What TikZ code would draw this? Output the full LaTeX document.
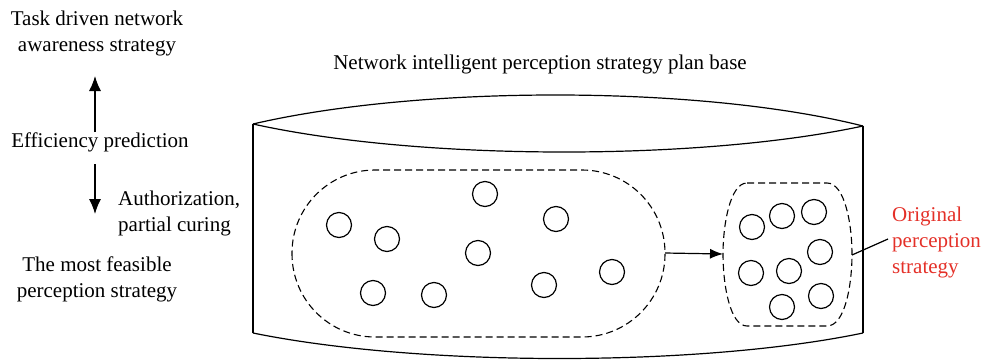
\documentclass[tikz,border=0pt]{standalone}
\usepackage{fontspec}
\setmainfont{Liberation Serif}
\usetikzlibrary{arrows.meta}
\definecolor{origred}{RGB}{228,48,40}
\begin{document}
\begin{tikzpicture}[x=1pt,y=-1pt,
  lbl/.style={font=\fontsize{21}{26}\selectfont, align=center, inner sep=0pt},
  dot/.style={draw, circle, minimum size=25pt, inner sep=0pt, line width=1.2pt},
  dsh/.style={draw, line width=1.1pt, dash pattern=on 7pt off 4pt},
  solid line/.style={line width=1.2pt},
  >={Latex[length=13pt,width=10pt]}]
\useasboundingbox (0,0) rectangle (984,362);
% texts
\node[lbl] (task) at (97,33) {Task driven network\\awareness strategy};
\node[lbl] (eff) at (100,142) {Efficiency prediction};
\node[lbl, align=left, anchor=west] (auth) at (118,213) {Authorization,\\partial curing};
\node[lbl] (feas) at (97,279) {The most feasible\\perception strategy};
\node[lbl] (title) at (540,64) {Network intelligent perception strategy plan base};
\node[lbl, align=left, anchor=west, text=origred] (orig) at (892,242) {Original\\perception\\strategy};
% arrows on left
\coordinate (upS) at (95,132);
\coordinate (upE) at (95,76);
\coordinate (dnS) at (95,164);
\coordinate (dnE) at (95,214);
\draw[solid line,-{Latex[length=15pt,width=12pt]}] (upS) -- (upE);
\draw[solid line,-{Latex[length=15pt,width=12pt]}] (dnS) -- (dnE);
% cylinder
\draw[solid line] (253,124) .. controls (420,85) and (700,85) .. (863,126);
\draw[solid line] (253,124) .. controls (420,161) and (700,161) .. (863,126);
\draw[solid line] (253,124) -- (253,333);
\draw[solid line] (863,126) -- (863,333);
\draw[solid line] (253,333) .. controls (420,367) and (700,367) .. (863,333);
% big dashed stadium
\draw[dsh, rounded corners=83pt] (292,170) rectangle (665,337);
\coordinate (bigR) at (665,253);
% small barrel
\draw[dsh] (747,183) -- (827,183) .. controls (845,183) and (852,225) .. (852,254)
  .. controls (852,285) and (845,326) .. (827,326) -- (747,326)
  .. controls (730,326) and (723,285) .. (723,254)
  .. controls (723,225) and (730,183) .. (747,183) -- cycle;
\coordinate (smallL) at (723,254);
\coordinate (smallR) at (852,255);
\draw[solid line,->] (bigR) -- (smallL);
\draw[solid line] (smallR) -- (888,239);
% circles big
\node[dot] (b1) at (485,194) {};
\node[dot] (b2) at (339,225) {};
\node[dot] (b3) at (387,239) {};
\node[dot] (b4) at (556,219) {};
\node[dot] (b5) at (478,253) {};
\node[dot] (b6) at (612,272) {};
\node[dot] (b7) at (373,293) {};
\node[dot] (b8) at (434,295) {};
\node[dot] (b9) at (544,285) {};
% circles small
\node[dot] (s1) at (752,227) {};
\node[dot] (s2) at (782,216) {};
\node[dot] (s3) at (814,212) {};
\node[dot] (s4) at (820,252) {};
\node[dot] (s5) at (751,273) {};
\node[dot] (s6) at (789,271) {};
\node[dot] (s7) at (821,296) {};
\node[dot] (s8) at (782,307) {};
\end{tikzpicture}
\end{document}
